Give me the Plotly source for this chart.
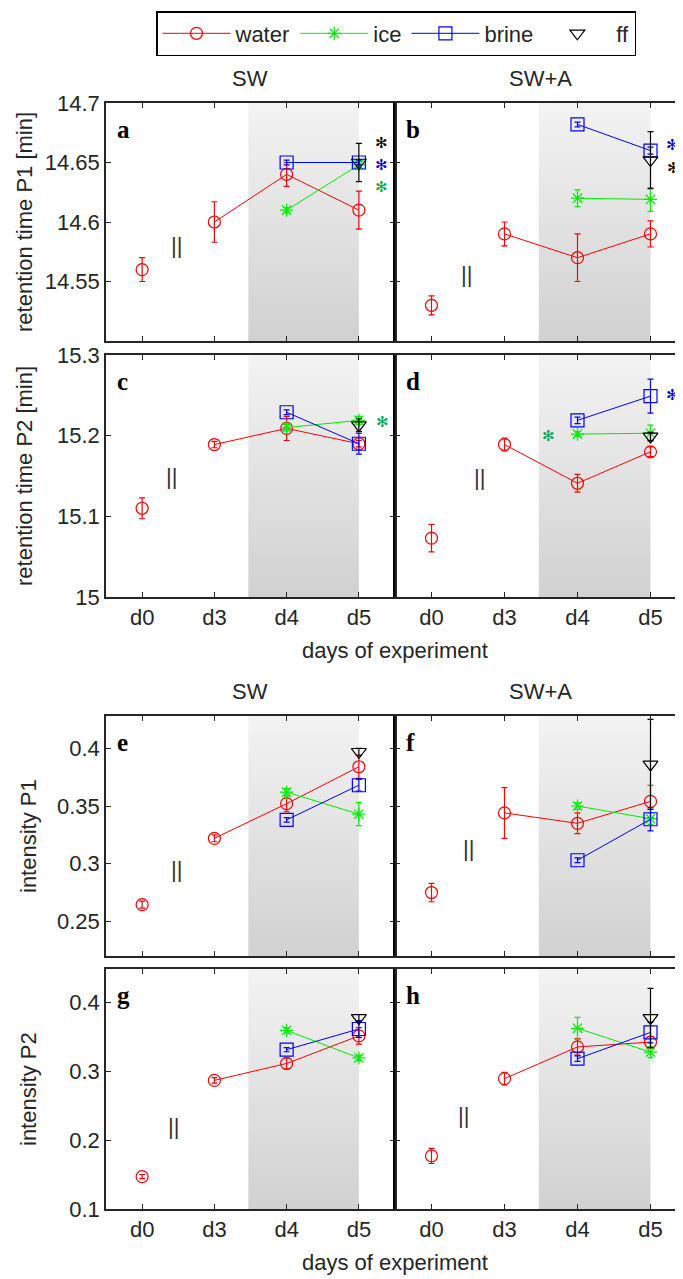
import plotly.graph_objects as go

# ---------------- data ----------------
DAYS = ["d0", "d3", "d4", "d5"]
DAY_POS = [0, 1, 2, 3]

# panel a: retention time P1, SW
A_WATER = [14.560, 14.600, 14.640, 14.610]
A_WATER_ERR = [0.010, 0.017, 0.010, 0.016]
A_ICE = [None, None, 14.610, 14.648]
A_ICE_ERR = [None, None, 0.002, 0.003]
A_BRINE = [None, None, 14.650, 14.650]
A_BRINE_ERR = [None, None, 0.002, 0.002]
A_FF = [None, None, None, 14.650]
A_FF_ERR = [None, None, None, 0.016]

# panel b: retention time P1, SW+A
B_WATER = [14.530, 14.590, 14.570, 14.590]
B_WATER_ERR = [0.008, 0.010, 0.020, 0.011]
B_ICE = [None, None, 14.620, 14.619]
B_ICE_ERR = [None, None, 0.007, 0.010]
B_BRINE = [None, None, 14.682, 14.660]
B_BRINE_ERR = [None, None, 0.002, 0.003]
B_FF = [None, None, None, 14.652]
B_FF_ERR = [None, None, None, 0.024]

# panel c: retention time P2, SW
C_WATER = [15.110, 15.189, 15.209, 15.190]
C_WATER_ERR = [0.013, 0.004, 0.015, 0.004]
C_ICE = [None, None, 15.210, 15.219]
C_ICE_ERR = [None, None, 0.004, 0.005]
C_BRINE = [None, None, 15.229, 15.190]
C_BRINE_ERR = [None, None, 0.003, 0.013]
C_FF = [None, None, None, 15.213]
C_FF_ERR = [None, None, None, 0.008]

# panel d: retention time P2, SW+A
D_WATER = [15.073, 15.189, 15.141, 15.180]
D_WATER_ERR = [0.017, 0.008, 0.011, 0.006]
D_ICE = [None, None, 15.202, 15.203]
D_ICE_ERR = [None, None, 0.003, 0.010]
D_BRINE = [None, None, 15.219, 15.249]
D_BRINE_ERR = [None, None, 0.004, 0.021]
D_FF = [None, None, None, 15.199]
D_FF_ERR = [None, None, None, 0.005]

# panel e: intensity P1, SW
E_WATER = [0.2645, 0.322, 0.352, 0.384]
E_WATER_ERR = [0.003, 0.003, 0.007, 0.010]
E_ICE = [None, None, 0.362, 0.343]
E_ICE_ERR = [None, None, 0.003, 0.010]
E_BRINE = [None, None, 0.338, 0.368]
E_BRINE_ERR = [None, None, 0.002, 0.005]
E_FF = [None, None, None, 0.397]
E_FF_ERR = [None, None, None, 0.003]

# panel f: intensity P1, SW+A
F_WATER = [0.275, 0.344, 0.335, 0.354]
F_WATER_ERR = [0.008, 0.022, 0.009, 0.014]
F_ICE = [None, None, 0.350, 0.339]
F_ICE_ERR = [None, None, 0.003, 0.005]
F_BRINE = [None, None, 0.303, 0.3385]
F_BRINE_ERR = [None, None, 0.002, 0.010]
F_FF = [None, None, None, 0.386]
F_FF_ERR = [None, None, None, 0.039]

# panel g: intensity P2, SW
G_WATER = [0.147, 0.2865, 0.311, 0.351]
G_WATER_ERR = [0.003, 0.004, 0.008, 0.012]
G_ICE = [None, None, 0.359, 0.319]
G_ICE_ERR = [None, None, 0.004, 0.004]
G_BRINE = [None, None, 0.331, 0.361]
G_BRINE_ERR = [None, None, 0.003, 0.012]
G_FF = [None, None, None, 0.377]
G_FF_ERR = [None, None, None, 0.005]

# panel h: intensity P2, SW+A
H_WATER = [0.177, 0.289, 0.335, 0.342]
H_WATER_ERR = [0.011, 0.009, 0.012, 0.008]
H_ICE = [None, None, 0.362, 0.3275]
H_ICE_ERR = [None, None, 0.016, 0.008]
H_BRINE = [None, None, 0.318, 0.356]
H_BRINE_ERR = [None, None, 0.004, 0.015]
H_FF = [None, None, None, 0.377]
H_FF_ERR = [None, None, None, 0.043]

PANEL_LETTERS = ["a", "b", "c", "d", "e", "f", "g", "h"]
COLUMN_TITLES = ["SW", "SW+A"]
Y_TITLES = ["retention time P1 [min]", "retention time P2 [min]", "intensity P1", "intensity P2"]
X_TITLE = "days of experiment"

Y_RANGES = [[14.5, 14.7], [15.0, 15.3], [0.22, 0.428], [0.1, 0.448]]
Y_TICKS = [[14.55, 14.6, 14.65, 14.7], [15.0, 15.1, 15.2, 15.3],
           [0.25, 0.3, 0.35, 0.4], [0.1, 0.2, 0.3, 0.4]]

# significance asterisks (panel index, x position, y value, colour)
SIG_MARKS = [
    (0, 3.31, 14.666, "#000000"), (0, 3.31, 14.648, "#0000cc"), (0, 3.31, 14.629, "#00a651"),
    (1, 3.3, 14.665, "#0000cc"), (1, 3.32, 14.645, "#000000"),
    (2, 3.33, 15.217, "#00a651"),
    (3, 1.6, 15.200, "#00a651"), (3, 3.3, 15.250, "#0000cc"),
]
# "||" break marks between d0 and d3 (panel index, x, y)
BREAK_MARKS = [
    (0, 0.47, 14.58), (1, 0.48, 14.556), (2, 0.40, 15.15), (3, 0.66, 15.148),
    (4, 0.47, 0.295), (5, 0.50, 0.313), (6, 0.43, 0.22), (7, 0.44, 0.235),
]
SHADE_FROM, SHADE_TO = 1.47, 3.0

PANEL_DATA = [
    (A_WATER, A_WATER_ERR, A_ICE, A_ICE_ERR, A_BRINE, A_BRINE_ERR, A_FF, A_FF_ERR),
    (B_WATER, B_WATER_ERR, B_ICE, B_ICE_ERR, B_BRINE, B_BRINE_ERR, B_FF, B_FF_ERR),
    (C_WATER, C_WATER_ERR, C_ICE, C_ICE_ERR, C_BRINE, C_BRINE_ERR, C_FF, C_FF_ERR),
    (D_WATER, D_WATER_ERR, D_ICE, D_ICE_ERR, D_BRINE, D_BRINE_ERR, D_FF, D_FF_ERR),
    (E_WATER, E_WATER_ERR, E_ICE, E_ICE_ERR, E_BRINE, E_BRINE_ERR, E_FF, E_FF_ERR),
    (F_WATER, F_WATER_ERR, F_ICE, F_ICE_ERR, F_BRINE, F_BRINE_ERR, F_FF, F_FF_ERR),
    (G_WATER, G_WATER_ERR, G_ICE, G_ICE_ERR, G_BRINE, G_BRINE_ERR, G_FF, G_FF_ERR),
    (H_WATER, H_WATER_ERR, H_ICE, H_ICE_ERR, H_BRINE, H_BRINE_ERR, H_FF, H_FF_ERR),
]

# ---------------- layout geometry (window pixels, page has an 8px body margin) ----------------
W, H = 683, 1279
OFF = 8


def px(xw):
    return (xw - OFF) / W


def py(yw):
    return 1 - (yw - OFF) / H


X_DOMAINS = [[px(106), px(395)], [px(395), px(687)]]
ROW_PX = [(103, 341), (355, 597), (716, 956), (969, 1209)]
Y_DOMAINS = [[py(b), py(t)] for t, b in ROW_PX]

FONT = "Liberation Sans, Arial, sans-serif"
TXT = "#262626"
AX = "#262626"
COLORS = {"water": "#ff0000", "ice": "#00ee00", "brine": "#0000ff", "ff": "#000000"}
SYMBOLS = {"water": "circle-open", "ice": "asterisk-open", "brine": "square-open", "ff": "triangle-down-open"}
MSIZE = {"water": 12, "ice": 11, "brine": 13, "ff": 13}


def with_gap(seq, after):
    return list(seq[:after + 1]) + [None] + list(seq[after + 1:])


def ax_ref(kind, n):
    return kind if n == 1 else f"{kind}{n}"


fig = go.Figure()
layout_axes = {}
annotations = []

for i, data in enumerate(PANEL_DATA):
    row, col = divmod(i, 2)
    n = i + 1
    xa, ya = ax_ref("x", n), ax_ref("y", n)
    yr = Y_RANGES[row]

    # shaded (gradient) period
    fig.add_trace(go.Scatter(
        x=[SHADE_FROM, SHADE_TO, SHADE_TO, SHADE_FROM, SHADE_FROM],
        y=[yr[0], yr[0], yr[1], yr[1], yr[0]],
        mode="none", fill="toself",
        fillgradient=dict(type="vertical", colorscale=[[0, "#d1d1d1"], [1, "#f3f3f3"]]),
        showlegend=False, hoverinfo="skip", xaxis=xa, yaxis=ya))

    water, water_err, ice, ice_err, brine, brine_err, ff, ff_err = data
    series = [
        ("water", with_gap(DAY_POS, 0), with_gap(water, 0), with_gap(water_err, 0), "lines+markers"),
        ("ice", DAY_POS, ice, ice_err, "lines+markers"),
        ("brine", DAY_POS, brine, brine_err, "lines+markers"),
        ("ff", DAY_POS, ff, ff_err, "markers"),
    ]
    for name, xs, ys, es, mode in series:
        c = COLORS[name]
        fig.add_trace(go.Scatter(
            x=xs, y=ys, name=name, mode=mode, connectgaps=False,
            line=dict(color=c, width=1),
            marker=dict(symbol=SYMBOLS[name], size=MSIZE[name], color=c, line=dict(color=c, width=1.2)),
            error_y=dict(type="data", array=es, color=c, thickness=1.2, width=3, visible=True),
            showlegend=(i == 0), xaxis=xa, yaxis=ya))

    bottom = row in (1, 3)
    layout_axes[ax_ref("xaxis", n)] = dict(
        domain=X_DOMAINS[col], anchor=ya, range=[-0.5, 3.5],
        tickmode="array", tickvals=DAY_POS, ticktext=DAYS, showticklabels=bottom,
        ticks="inside", ticklen=5, tickwidth=1, tickcolor=AX,
        showline=True, linecolor=AX, linewidth=1.5, mirror="ticks",
        showgrid=False, zeroline=False, automargin=False,
        tickfont=dict(family=FONT, size=22, color=TXT))
    layout_axes[ax_ref("yaxis", n)] = dict(
        domain=Y_DOMAINS[row], anchor=xa, range=yr,
        tickmode="array", tickvals=Y_TICKS[row],
        ticktext=[f"{v:g}" for v in Y_TICKS[row]], showticklabels=(col == 0),
        ticks="inside", ticklen=5, tickwidth=1, tickcolor=AX,
        showline=True, linecolor=AX if col == 0 else "#000000", linewidth=1.5, mirror="ticks",
        showgrid=False, zeroline=False, automargin=False,
        tickfont=dict(family=FONT, size=22, color=TXT))

    annotations.append(dict(
        text=f"<b>{PANEL_LETTERS[i]}</b>", xref=f"{xa} domain", yref=f"{ya} domain",
        x=0.03, y=0.89, xanchor="left", yanchor="middle", showarrow=False,
        font=dict(family="Liberation Serif, Times New Roman, serif", size=25, color="#000000")))

for p, x, y, c in SIG_MARKS:
    n = p + 1
    annotations.append(dict(
        text="✻", x=x, y=y, xref=ax_ref("x", n), yref=ax_ref("y", n),
        showarrow=False, xanchor="center", yanchor="middle",
        font=dict(family="DejaVu Sans", size=15, color=c)))

for p, x, y in BREAK_MARKS:
    n = p + 1
    annotations.append(dict(
        text="||", x=x, y=y, xref=ax_ref("x", n), yref=ax_ref("y", n),
        showarrow=False, xanchor="center", yanchor="middle",
        font=dict(family=FONT, size=22, color="#333333")))

# row y-axis titles
for row, t in enumerate(Y_TITLES):
    top, bot = ROW_PX[row]
    annotations.append(dict(
        text=t, xref="paper", yref="paper", x=px(24 if row < 2 else 28), y=py((top + bot) / 2),
        textangle=-90, showarrow=False, xanchor="center", yanchor="middle",
        font=dict(family=FONT, size=22, color=TXT)))

# column titles
for ty in (78, 691):
    for col, t in enumerate(COLUMN_TITLES):
        annotations.append(dict(
            text=t, xref="paper", yref="paper", x=px(250 if col == 0 else 540), y=py(ty),
            showarrow=False, xanchor="center", yanchor="middle",
            font=dict(family=FONT, size=22, color=TXT)))

# x-axis titles
for ty in (650, 1262):
    annotations.append(dict(
        text=X_TITLE, xref="paper", yref="paper", x=px(395), y=py(ty),
        showarrow=False, xanchor="center", yanchor="middle",
        font=dict(family=FONT, size=22, color=TXT)))

fig.update_layout(
    width=W, height=H, margin=dict(l=0, r=0, t=0, b=0, pad=0, autoexpand=False),
    paper_bgcolor="white", plot_bgcolor="white",
    showlegend=True,
    legend=dict(orientation="h", x=px(396), xanchor="center", y=py(11), yanchor="top",
                bordercolor="#000000", borderwidth=1.5, bgcolor="white",
                itemwidth=68, font=dict(family=FONT, size=22, color=TXT),
                tracegroupgap=0, itemsizing="trace"),
    annotations=annotations,
    **layout_axes)

fig.write_html("out.html", config={"responsive": False})
